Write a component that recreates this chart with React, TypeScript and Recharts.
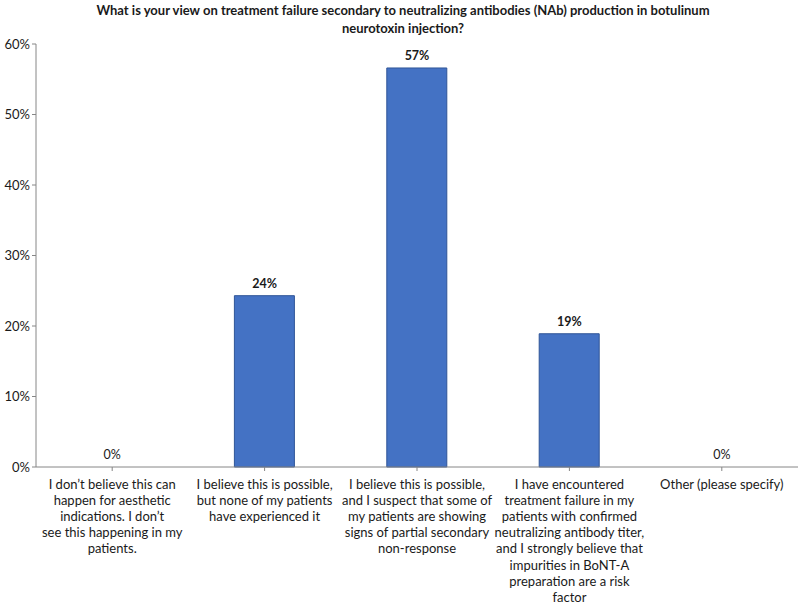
import { ComposedChart, Bar, Line, XAxis, YAxis, LabelList } from "recharts";

const categories = [
  "I don\u2019t believe this can|happen for aesthetic|indications. I don\u2019t|see this happening in my|patients.",
  "I believe this is possible,|but none of my patients|have experienced it",
  "I believe this is possible,|and I suspect that some of|my patients are showing|signs of partial secondary|non-response",
  "I have encountered|treatment failure in my|patients with confirmed|neutralizing antibody titer,|and I strongly believe that|impurities in BoNT-A|preparation are a risk|factor",
  "Other (please specify)",
];
const shares = [0, 24.3, 56.6, 18.9, 0];
const shareLabels = ["0%", "24%", "57%", "19%", "0%"];
const yTicks = [0, 10, 20, 30, 40, 50, 60];

const data = categories.map((c, i) => ({ name: c, value: shares[i], label: shareLabels[i] }));

const font = "Lato, 'Open Sans', sans-serif";

const CatTick = (props: any) => {
  const { x, y, payload } = props;
  const lines = String(payload.value).split("|");
  return (
    <g transform={`translate(${x},${y})`}>
      {lines.map((l: string, i: number) => (
        <text key={i} x={0} y={15.5 + i * 16.2} textAnchor="middle" fontSize={13} fill="#1a1a1a" fontFamily={font}>
          {l}
        </text>
      ))}
    </g>
  );
};

const ValueLabel = (props: any) => {
  const { x, y, value } = props;
  const zero = value === "0%";
  return (
    <text
      x={x}
      y={y - 8}
      textAnchor="middle"
      fontSize={12.5}
      fontWeight={zero ? 400 : 700}
      fill="#1a1a1a"
      fontFamily={font}
    >
      {value}
    </text>
  );
};

export default function App() {
  return (
    <div style={{ position: "absolute", left: 0, top: 0, width: 800, height: 606, background: "#fff" }}>
      <div
        style={{
          position: "absolute",
          top: 1,
          left: 0,
          width: 806,
          textAlign: "center",
          fontFamily: font,
          fontWeight: 700,
          fontSize: 13,
          lineHeight: "18px",
          color: "#1a1a1a",
        }}
      >
        What is your view on treatment failure secondary to neutralizing antibodies (NAb) production in botulinum
        <br />
        neurotoxin injection?
      </div>
      <ComposedChart
        width={800}
        height={606}
        data={data}
        margin={{ top: 44, right: 2, left: 0, bottom: 0 }}
      >
        <XAxis
          dataKey="name"
          interval={0}
          height={139}
          tick={<CatTick />}
          tickLine={{ stroke: "#868686" }}
          axisLine={{ stroke: "#868686" }}
          tickSize={4}
        />
        <YAxis
          width={36}
          domain={[0, 60]}
          ticks={yTicks}
          tickFormatter={(v: number) => `${v}%`}
          tick={{ fontSize: 13, fill: "#1a1a1a", fontFamily: font }}
          tickLine={{ stroke: "#868686" }}
          axisLine={{ stroke: "#868686" }}
          tickSize={4}
        />
        <Bar dataKey="value" barSize={60} fill="#4472C4" stroke="#2F5597" strokeWidth={1} isAnimationActive={false} />
        <Line
          dataKey="value"
          stroke="none"
          dot={false}
          activeDot={false}
          isAnimationActive={false}
        >
          <LabelList dataKey="label" content={<ValueLabel />} />
        </Line>
      </ComposedChart>
    </div>
  );
}
